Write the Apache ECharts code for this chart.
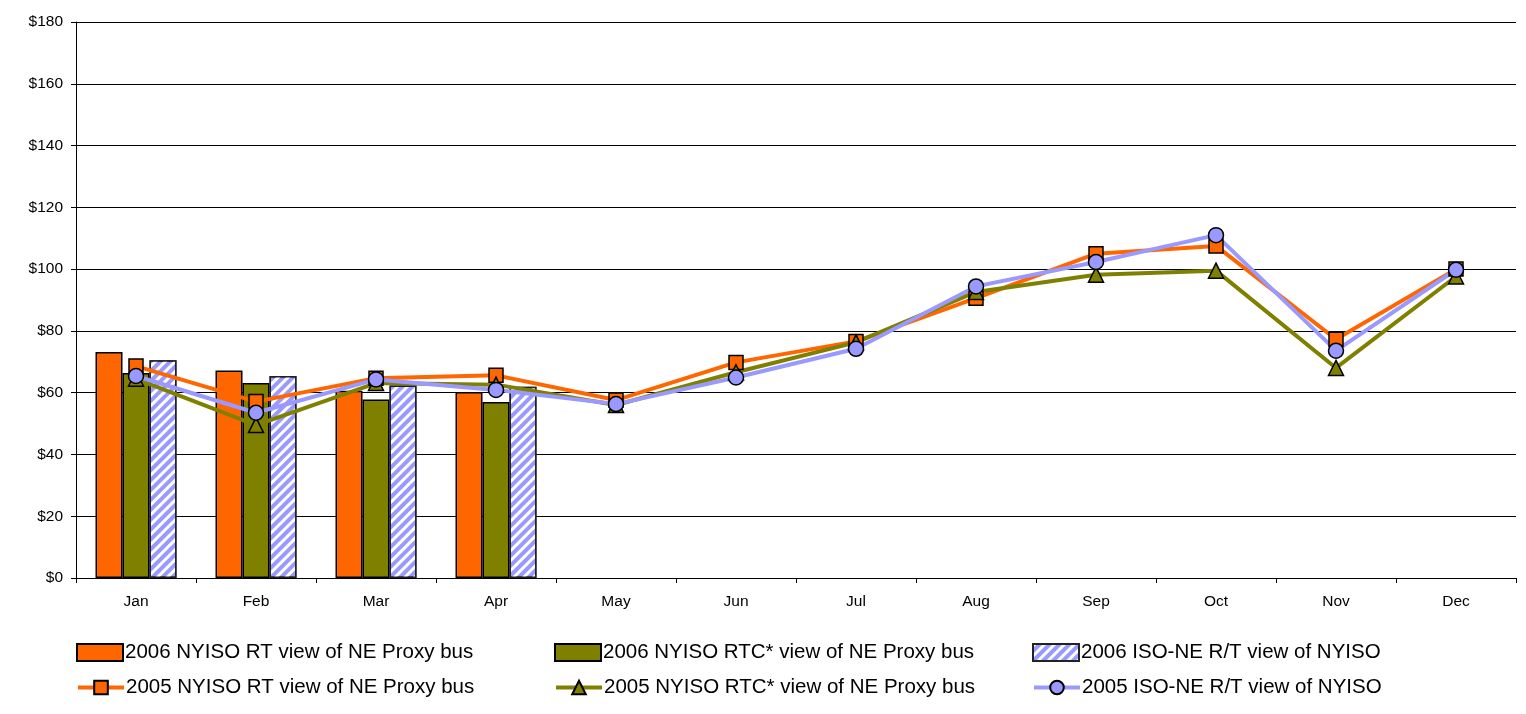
<!DOCTYPE html>
<html><head><meta charset="utf-8">
<script src="https://cdn.jsdelivr.net/npm/echarts@6/dist/echarts.min.js"></script>
<style>html,body{margin:0;padding:0;background:#fff}#c{width:1526px;height:714px}</style>
</head><body><div id="c"></div>
<script>
const months = ['Jan','Feb','Mar','Apr','May','Jun','Jul','Aug','Sep','Oct','Nov','Dec'];
const yTicks = [0,20,40,60,80,100,120,140,160,180];
const rt2006  = [73.2, 67.2, 60.6, 60.2, null, null, null, null, null, null, null, null];
const rtc2006 = [66.4, 63.1, 57.8, 57.0, null, null, null, null, null, null, null, null];
const iso2006 = [70.5, 65.4, 62.3, 61.9, null, null, null, null, null, null, null, null];
const rt2005  = [68.6, 57.1, 64.7, 65.6, 57.6, 69.8, 76.6, 90.6, 105.0, 107.5, 77.3, 100.0];
const rtc2005 = [64.5, 49.5, 63.1, 62.6, 56.0, 66.6, 76.3, 92.6, 98.2, 99.5, 68.0, 97.6];
const iso2005 = [65.4, 53.5, 64.3, 60.9, 56.3, 64.9, 74.2, 94.4, 102.3, 111.0, 73.6, 99.8];
const names = [
  '2006 NYISO RT view of NE Proxy bus',
  '2006 NYISO RTC* view of NE Proxy bus',
  '2006 ISO-NE R/T view of NYISO',
  '2005 NYISO RT view of NE Proxy bus',
  '2005 NYISO RTC* view of NE Proxy bus',
  '2005 ISO-NE R/T view of NYISO'
];
const FONT = 'Liberation Sans, Arial, sans-serif';
const chart = echarts.init(document.getElementById('c'));
const legendPos = [[76,642],[554,642],[1032,642],[76,677],[554,677],[1032,677]];
const legends = names.map((n,i)=>({
  data:[n], left:legendPos[i][0], top:legendPos[i][1],
  itemWidth:46, itemHeight:17, itemGap:0, padding:0,
  icon: i < 3 ? 'rect' : undefined,
  lineStyle:{width:4},
  textStyle:{fontFamily:FONT, fontSize:20.5, color:'#000', padding:[0,0,0,-3]},
  selectedMode:false
}));
const barStyle = (c)=>({color:c, borderColor:'#000', borderWidth:1.5});
chart.setOption({
  animation:false,
  grid:{left:76, right:10, top:22, bottom:136, containLabel:false},
  legend: legends,
  xAxis:{type:'category', data:months,
    axisLine:{lineStyle:{color:'#000', width:1}},
    axisTick:{show:true, length:5, lineStyle:{color:'#000'}},
    axisLabel:{fontFamily:FONT, fontSize:15.5, color:'#000', margin:16}},
  yAxis:{type:'value', min:0, max:180, interval:20,
    axisLine:{show:true, lineStyle:{color:'#000', width:1}},
    axisTick:{show:true, length:5, lineStyle:{color:'#000'}},
    splitLine:{lineStyle:{color:'#000', width:1}},
    axisLabel:{fontFamily:FONT, fontSize:15.5, color:'#000', margin:13,
      formatter:(v)=> yTicks.includes(v) ? '$'+v : ''}},
  series:[
    {name:names[0], type:'bar', data:rt2006, barWidth:27, barGap:'0%', itemStyle:barStyle('#ff6600')},
    {name:names[1], type:'bar', data:rtc2006, barWidth:27, barGap:'0%', itemStyle:barStyle('#808000')},
    {name:names[2], type:'bar', data:iso2006, barWidth:27, barGap:'0%',
      itemStyle:{color:'#9999ff', borderColor:'#222', borderWidth:1.5,
        decal:{symbol:'rect', symbolSize:1, dashArrayX:[1,0], dashArrayY:[3,4], rotation:-Math.PI/4, color:'#ffffff'}}},
    {name:names[3], type:'line', data:rt2005, symbol:'rect', symbolSize:14, z:5,
      lineStyle:{color:'#ff6600', width:4}, itemStyle:{color:'#ff6600', borderColor:'#000', borderWidth:1.5}},
    {name:names[4], type:'line', data:rtc2005, symbol:'triangle', symbolSize:15, z:5,
      lineStyle:{color:'#808000', width:4}, itemStyle:{color:'#808000', borderColor:'#000', borderWidth:1.5}},
    {name:names[5], type:'line', data:iso2005, symbol:'circle', symbolSize:15, z:5,
      lineStyle:{color:'#9999ff', width:4}, itemStyle:{color:'#9999ff', borderColor:'#000', borderWidth:1.5}}
  ]
});
</script></body></html>
